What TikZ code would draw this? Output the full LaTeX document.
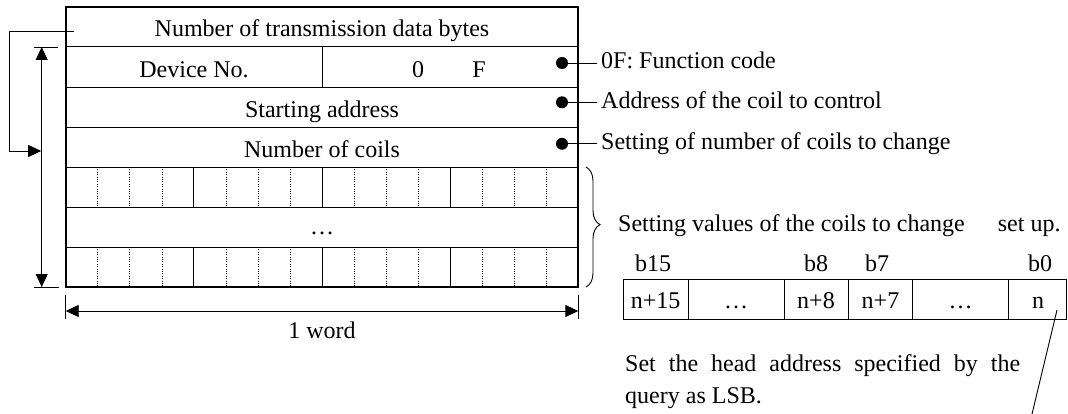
\documentclass[tikz,border=0pt]{standalone}
\usepackage{fontspec}
\setmainfont{Liberation Serif}
\usetikzlibrary{arrows.meta,decorations.pathreplacing}
\begin{document}
\begin{tikzpicture}[x=1pt,y=-1pt,
  txt/.style={inner sep=0pt,font=\fontsize{24}{29}\selectfont,anchor=base},
  ann/.style={txt,anchor=base west},
  thinl/.style={line width=0.9pt},
  outerl/.style={line width=1.8pt},
  dotl/.style={line width=0.6pt,dash pattern=on 1pt off 1.4pt},
  arr/.style={-{Triangle[length=13pt,width=12pt]}},
  darr/.style={{Triangle[length=13pt,width=12pt]}-{Triangle[length=13pt,width=12pt]}},
  bullet/.style={circle,fill,inner sep=0pt,minimum size=12pt}
]
\useasboundingbox (0,0) rectangle (1068,414);
% row lines of the main frame
\foreach \yy in {46.7,87,127,167,207,247} {\draw[thinl] (65.7,\yy) -- (578.3,\yy);}
\draw[thinl] (322,46.7) -- (322,87);
% bit rows
\foreach \i in {1,2,3,5,6,7,9,10,11,13,14,15} {
  \draw[dotl] ({65.7+32.0375*\i},167) -- ({65.7+32.0375*\i},207);
  \draw[dotl] ({65.7+32.0375*\i},247) -- ({65.7+32.0375*\i},287);
}
\foreach \i in {4,8,12} {
  \draw[thinl] ({65.7+32.0375*\i},167) -- ({65.7+32.0375*\i},207);
  \draw[thinl] ({65.7+32.0375*\i},247) -- ({65.7+32.0375*\i},287);
}
\draw[outerl] (65.7,6.7) rectangle (578.3,287);
% texts in the frame
\node[txt] (nbytes) at (322,36.7) {Number of transmission data bytes};
\node[txt] (devno) at (194,78) {Device No.};
\node[txt] (zero) at (418,78) {0};
\node[txt] (eff) at (479,78) {F};
\node[txt] (saddr) at (322,117.5) {Starting address};
\node[txt] (ncoils) at (322,157.5) {Number of coils};
\node[txt] (vdots) at (322,234) {…};
% annotations
\node[bullet] (d1) at (562,63) {};
\node[bullet] (d2) at (562,102.3) {};
\node[bullet] (d3) at (562,143.8) {};
\coordinate (e1) at (597,63);
\coordinate (e2) at (597,102.3);
\coordinate (e3) at (597,143.8);
\draw[thinl] (d1.center) -- (e1);
\draw[thinl] (d2.center) -- (e2);
\draw[thinl] (d3.center) -- (e3);
\node[ann] (a1) at (601,68.8) {0F: Function code};
\node[ann] (a2) at (601,108.2) {Address of the coil to control};
\node[ann] (a3) at (601,149.6) {Setting of number of coils to change};
% left bracket
\coordinate (bt) at (74,31);
\coordinate (bl1) at (9,31);
\coordinate (bl2) at (9,151);
\coordinate (bar) at (41.2,151);
\draw[thinl,arr] (bt) -- (bl1) -- (bl2) -- (bar);
% vertical dimension
\coordinate (vt) at (41.7,47);
\coordinate (vb) at (41.7,287);
\draw[thinl] (34,47) -- (58,47);
\draw[thinl] (34,287) -- (59,287);
\draw[thinl,darr] (vt) -- (vb);
% horizontal dimension
\coordinate (hl) at (65.7,311);
\coordinate (hr) at (578.3,311);
\draw[thinl] (65.7,295) -- (65.7,319);
\draw[thinl] (578.3,295) -- (578.3,319);
\draw[thinl,darr] (hl) -- (hr);
\node[txt] (word) at (322,338) {1 word};
% brace
\draw[thinl,decorate,decoration={brace,amplitude=14pt,aspect=0.48}] (586,167) -- (586,287);
\node[ann] (setv) at (618,232) {Setting values of the coils to change\hspace{33pt}set up.};
% bit box
\draw[thinl] (623.3,279.5) rectangle (1066,319.5);
\foreach \xx in {688,784,848.5,912.5,1008.5} {\draw[thinl] (\xx,279.5) -- (\xx,319.5);}
\node[txt] (c15) at (655.6,308.5) {n+15};
\node[txt] (cd1) at (736,308.5) {…};
\node[txt] (c8) at (816,308.5) {n+8};
\node[txt] (c7) at (880.5,308.5) {n+7};
\node[txt] (cd2) at (960.5,308.5) {…};
\node[txt] (c0) at (1038,308.5) {n};
\node[txt] (b15) at (653,271.7) {b15};
\node[txt] (b8) at (816,271.7) {b8};
\node[txt] (b7) at (877,271.7) {b7};
\node[txt] (b0) at (1040,271.7) {b0};
% leader
\coordinate (ls) at (1057,310);
\coordinate (le) at (1032,414);
\draw[thinl] (ls) -- (le);
\node[ann] (note1) at (625,371.7) {\hbox to 395pt{Set\hfill the\hfill head\hfill address\hfill specified\hfill by\hfill the}};
\node[ann] (note2) at (625,403.5) {query as LSB.};
\end{tikzpicture}
\end{document}
